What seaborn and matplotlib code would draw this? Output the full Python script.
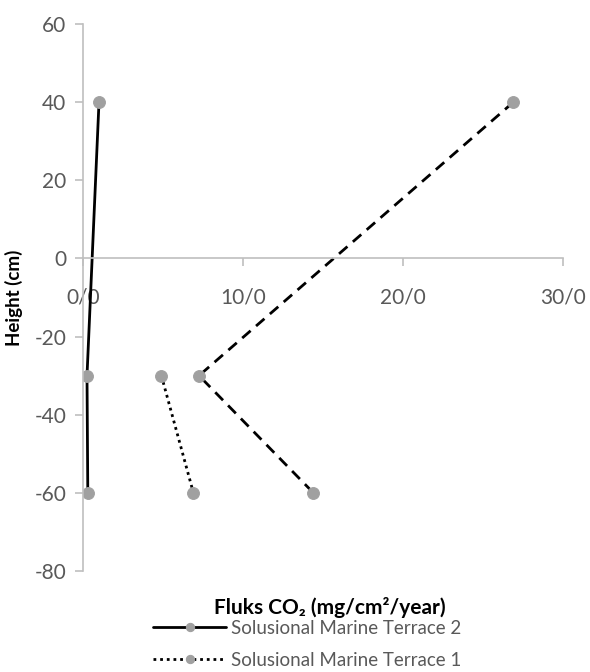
import matplotlib
matplotlib.use("Agg")
import matplotlib.pyplot as plt
import seaborn as sns
import pandas as pd

# Data
heights = [40, -30, -60]
terrace2_flux = [1.0, 0.25, 0.3]     # solid
terrace1_flux = [None, 4.9, 6.9]     # dotted (only two points)
terrace3_flux = [26.9, 7.25, 14.4]   # dashed
series_names = ["Solusional Marine Terrace 2", "Solusional Marine Terrace 1", "Solusional Marine Terrace 3"]
x_ticks = [0, 10, 20, 30]
x_tick_labels = ["0/0", "10/0", "20/0", "30/0"]
y_ticks = [-80, -60, -40, -20, 0, 20, 40, 60]

sns.set_theme(style="white")
plt.rcParams['font.family'] = ['Lato', 'DejaVu Sans']
plt.rcParams['axes.unicode_minus'] = False

fig = plt.figure(figsize=(5.9, 6.72), dpi=100)
ax = fig.add_axes([83/590, 1-571/672, 480/590, 547/672])

marker_kw = dict(marker="o", markersize=8.5, markerfacecolor="#a0a0a0", markeredgecolor="#a0a0a0")

styles = {
    series_names[0]: dict(linestyle="-"),
    series_names[1]: dict(linestyle=(0, (1, 1.4))),
    series_names[2]: dict(linestyle=(0, (4, 2.6))),
}
data = {series_names[0]: terrace2_flux, series_names[1]: terrace1_flux, series_names[2]: terrace3_flux}

for name in series_names:
    df = pd.DataFrame({"flux": data[name], "height": heights}).dropna()
    sns.lineplot(data=df, x="flux", y="height", sort=False, estimator=None, ax=ax,
                 color="black", linewidth=2, label=name, legend=False,
                 **styles[name], **marker_kw)

ax.set_xlim(0, 30)
ax.set_ylim(-80, 60)
ax.spines['left'].set_position(('data', 0))
ax.spines['bottom'].set_position(('data', 0))
ax.spines['top'].set_visible(False)
ax.spines['right'].set_visible(False)
for s in ['left', 'bottom']:
    ax.spines[s].set_color("#bfbfbf")
    ax.spines[s].set_linewidth(1.2)

ax.set_xticks(x_ticks)
ax.set_xticklabels(x_tick_labels)
ax.set_yticks(y_ticks)
ax.tick_params(axis='both', which='both', direction='out', length=6, width=1.2,
               color="#bfbfbf", labelcolor="#595959", labelsize=15)
ax.tick_params(axis='x', pad=15)
ax.tick_params(axis='y', pad=6)
ax.tick_params(left=True, bottom=True)

ax.set_ylabel("Height (cm)", fontsize=13.5, fontweight="bold", color="black")
ax.yaxis.set_label_coords(-0.125, 0.5)
ax.set_xlabel("")

fig.text(330/590, 1-607/672, "Fluks CO₂ (mg/cm²/year)", ha="center", va="center",
         fontsize=15, fontweight="bold", color="black")

handles, labels = ax.get_legend_handles_labels()
leg = fig.legend(handles[:2], labels[:2], loc="upper left", bbox_to_anchor=(153/590, 1-620/672),
                 frameon=False, fontsize=13.5, handlelength=3.9, handletextpad=0.25,
                 labelspacing=0.78, borderpad=0, borderaxespad=0, numpoints=1, markerscale=0.7)
for t in leg.get_texts():
    t.set_color("#595959")

fig.savefig("out.png", dpi=100)
